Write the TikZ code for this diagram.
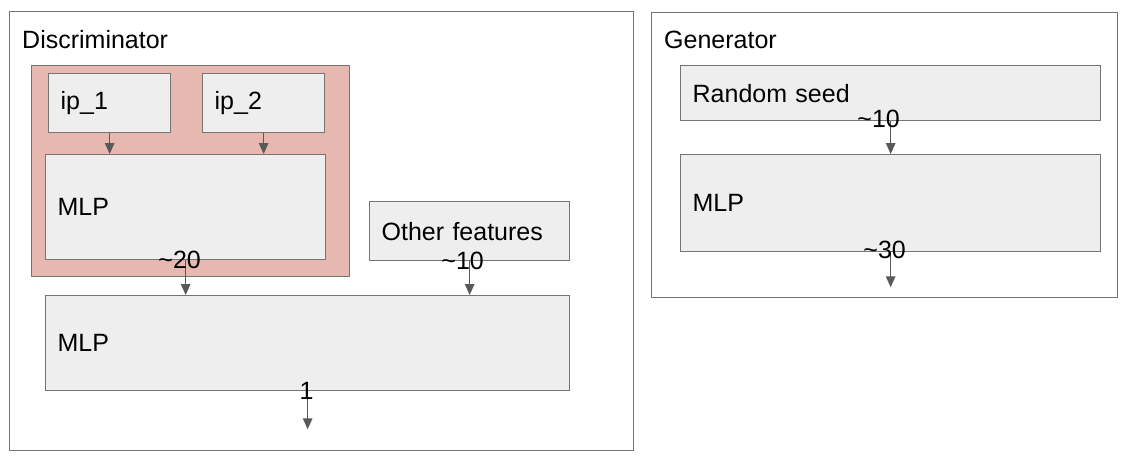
\documentclass[tikz,border=0pt]{standalone}
\usepackage{fontspec}
\setmainfont{Liberation Sans}
\usepackage{tikz}
\usetikzlibrary{arrows.meta,positioning}

\definecolor{boxfill}{HTML}{EEEEEE}
\definecolor{boxline}{HTML}{757575}
\definecolor{encfill}{HTML}{E6B8AF}
\definecolor{arrowgray}{HTML}{595959}

\begin{document}
\begin{tikzpicture}[
  x=1pt, y=-1pt,
  font=\fontsize{25}{29}\selectfont,
  frame/.style={draw=boxline, line width=1.3pt, anchor=north west, inner sep=0pt},
  group/.style={draw=boxline, line width=1.3pt, fill=encfill, anchor=north west, inner sep=0pt},
  box/.style={draw=boxline, line width=1.3pt, fill=boxfill, anchor=north west, align=left, inner xsep=12pt, inner ysep=0pt},
  title/.style={anchor=base west, inner sep=0pt},
  num/.style={inner sep=0pt},
  arrow/.style={-{Triangle[length=11pt, width=9.5pt]}, draw=arrowgray, line width=1.3pt}
]
\useasboundingbox (0,0) rectangle (1129,469);

% discriminator
\node[frame, minimum width=624pt, minimum height=439pt] (disc) at (9,11) {};
\node[title] (disctitle) at (22,48) {Discriminator};
\node[group, minimum width=318pt, minimum height=211pt] (enc) at (31,65) {};
\node[box, text width=98pt, minimum height=59pt] (ip1) at (48,73) {ip\_1};
\node[box, text width=98pt, minimum height=59pt, right=30.7pt of ip1] (ip2) {ip\_2};
\node[box, text width=256pt, minimum height=105pt] (dmlp1) at (45,154) {MLP};
\node[box, text width=176pt, minimum height=59pt] (other) at (369,201) {Other features};
\node[box, text width=500pt, minimum height=95pt] (dmlp2) at (45,295) {MLP};
\coordinate[below=38pt of dmlp2] (dout);

\draw[arrow] (ip1.south) -- (ip1.south |- dmlp1.north);
\draw[arrow] (ip2.south) -- (ip2.south |- dmlp1.north);
\draw[arrow] (dmlp1.south) node[num, xshift=-6pt] {\textasciitilde20} -- (dmlp1.south |- dmlp2.north);
\draw[arrow] (other.south) node[num, xshift=-7pt] {\textasciitilde10} -- (other.south |- dmlp2.north);
\draw[arrow] (dmlp2.south) node[num, xshift=-1pt] {1} -- (dout);

% generator
\node[frame, minimum width=466pt, minimum height=285pt] (gen) at (651,12) {};
\node[title] (gentitle) at (664,48) {Generator};
\node[box, text width=396pt, minimum height=55pt] (seed) at (680,65) {Random seed};
\node[box, text width=396pt, minimum height=97pt, below=32.7pt of seed] (gmlp) {MLP};
\coordinate[below=35pt of gmlp] (gout);

\draw[arrow] (seed.south) node[num, xshift=-12pt, yshift=2pt] {\textasciitilde10} -- (gmlp.north);
\draw[arrow] (gmlp.south) node[num, xshift=-6pt, yshift=2pt] {\textasciitilde30} -- (gout);
\end{tikzpicture}
\end{document}
